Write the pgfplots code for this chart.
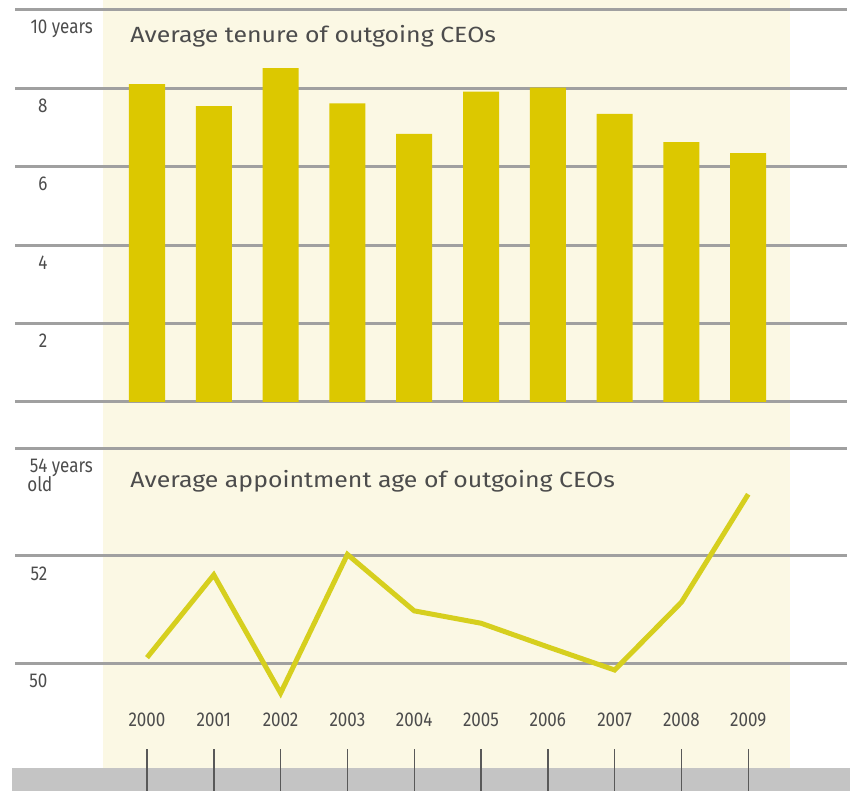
\documentclass[border=0pt]{standalone}
\usepackage{fontspec}
\setmainfont{Fira Sans}
\newfontfamily\condfont[FakeStretch=0.85]{Fira Sans}
\newfontfamily\titlefont[FakeStretch=1.13]{Fira Sans}
\usepackage{pgfplots}
\pgfplotsset{compat=1.18}
\definecolor{bary}{HTML}{DCC800}
\definecolor{liney}{HTML}{D6CF1E}
\definecolor{paleb}{HTML}{FBF8E4}
\definecolor{gridg}{HTML}{A0A0A0}
\definecolor{bandg}{HTML}{C4C4C4}
\definecolor{txt}{HTML}{4C4C4C}
\newcommand\nb[1]{\makebox[10pt][r]{#1}}
\begin{document}
\begin{tikzpicture}[x=0.5pt,y=0.5pt]
\useasboundingbox (0,0) rectangle (850,791);
\fill[paleb] (103,23) rectangle (790,791);
\fill[bandg] (12,0) rectangle (850,23);
\begin{axis}[
  at={(7.5pt,194.5pt)}, anchor=south west,
  scale only axis, width=416pt, height=196pt,
  xmin=-1.976, xmax=10.479, ymin=0, ymax=10,
  axis line style={draw=none},
  xtick=\empty,
  ytick={0,2,...,10},
  yticklabels={,\nb{2},\nb{4},\nb{6},\nb{8},\nb{10} years},
  ytick style={draw=none},
  ymajorgrids, major grid style={gridg, line width=1.5pt},
  yticklabel style={anchor=north west, inner sep=0pt, xshift=6pt, yshift=-5pt, text=txt, font=\condfont\fontsize{10}{11}\selectfont},
  ybar, bar width=18pt,
  clip=false,
]
\addplot[fill=bary, draw=none] coordinates {(0,8.11) (1,7.55) (2,8.52) (3,7.62) (4,6.84) (5,7.92) (6,8.02) (7,7.35) (8,6.63) (9,6.35)};
\end{axis}
\begin{axis}[
  at={(7.5pt,21pt)}, anchor=south west,
  scale only axis, width=416pt, height=150.5pt,
  xmin=-1.976, xmax=10.479, ymin=48.4, ymax=54,
  axis line style={draw=none},
  xtick={0,...,9},
  xtick pos=lower,
  xticklabels={2000,2001,2002,2003,2004,2005,2006,2007,2008,2009},
  tick align=outside, major tick length=21pt,
  xtick style={draw=black!65, line width=0.7pt},
  xticklabel style={anchor=north, inner sep=0pt, yshift=39pt, text=txt, font=\condfont\fontsize{10}{11}\selectfont},
  ytick={50,52,54},
  yticklabels={\nb{50},\nb{52},{\nb{54} years\\[-1.5pt]old}},
  ytick style={draw=none},
  ymajorgrids, major grid style={gridg, line width=1.5pt},
  yticklabel style={anchor=north west, inner sep=0pt, xshift=27pt, yshift=-5.5pt, align=left, text=txt, font=\condfont\fontsize{10}{9}\selectfont},
  clip=false,
]
\addplot[liney, line width=2.5pt, mark=none] coordinates {(0,50.10) (1,51.64) (2,49.44) (3,52.02) (4,50.97) (5,50.74) (6,50.30) (7,49.87) (8,51.13) (9,53.14)};
\end{axis}
\node[anchor=base west, text=txt, font=\titlefont\fontsize{11}{12}\selectfont, inner sep=0pt] at (130,748) {Average tenure of outgoing CEOs};
\node[anchor=base west, text=txt, font=\titlefont\fontsize{11}{12}\selectfont, inner sep=0pt] at (130,303) {Average appointment age of outgoing CEOs};
\end{tikzpicture}
\end{document}
